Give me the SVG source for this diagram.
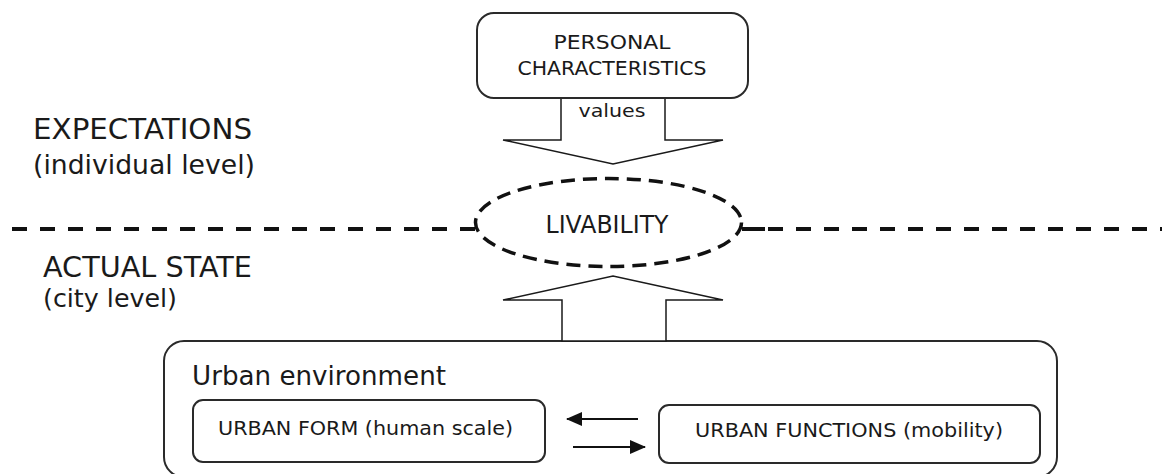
<svg xmlns="http://www.w3.org/2000/svg" width="1162" height="474" viewBox="0 0 1162 474">
  <defs>
    <style>
      .t { font-family: "DejaVu Sans", "Liberation Sans", sans-serif; fill: #1a1a1a; }
      .box { fill: #ffffff; stroke: #2a2a2a; stroke-width: 2; }
      .frame { fill: none; stroke: #2a2a2a; stroke-width: 2; }
      .block { fill: #ffffff; stroke: #1a1a1a; stroke-width: 1.5; stroke-linejoin: miter; }
      .dash { fill: none; stroke: #111111; stroke-width: 4; stroke-dasharray: 15 13; }
      .small { stroke: #111111; stroke-width: 2; fill: none; }
    </style>
    <marker id="ah2" viewBox="0 0 16 14" refX="15" refY="7" markerWidth="16" markerHeight="14" markerUnits="userSpaceOnUse" orient="auto">
      <path d="M0,0 L16,7 L0,14 z" fill="#111111"/>
    </marker>
  </defs>

  <!-- level divider -->
  <g id="divider">
    <line class="dash" x1="12" y1="229" x2="480" y2="229"/>
    <line class="dash" x1="768" y1="229" x2="1162" y2="229"/>
    <line class="dash" x1="742" y1="229" x2="765" y2="229" style="stroke-dasharray:none"/>
  </g>

  <!-- side labels -->
  <g id="label-expectations">
    <text class="t" x="33" y="139" font-size="28" textLength="219" lengthAdjust="spacingAndGlyphs">EXPECTATIONS</text>
    <text class="t" x="33" y="174" font-size="27" textLength="222" lengthAdjust="spacingAndGlyphs">(individual level)</text>
  </g>
  <g id="label-actual">
    <text class="t" x="43" y="277" font-size="28" textLength="209" lengthAdjust="spacingAndGlyphs">ACTUAL STATE</text>
    <text class="t" x="43" y="307" font-size="25" textLength="134" lengthAdjust="spacingAndGlyphs">(city level)</text>
  </g>

  <!-- urban environment frame -->
  <g id="urban-environment">
    <rect class="frame" x="164" y="341" width="893" height="136" rx="20" ry="20"/>
    <text class="t" x="192" y="385" font-size="26" textLength="254" lengthAdjust="spacingAndGlyphs">Urban environment</text>
  </g>

  <!-- connectors -->
  <g id="connectors">
    <polygon class="block" points="561,98 561,140 503,140 613,164 723,140 665,140 665,98"/>
    <polygon class="block" points="562,341 562,300 503,300 613,276 723,300 666,300 666,341"/>
    <line class="small" x1="638" y1="419" x2="567" y2="419" marker-end="url(#ah2)"/>
    <line class="small" x1="573" y1="447" x2="645" y2="447" marker-end="url(#ah2)"/>
  </g>

  <!-- personal characteristics -->
  <g id="personal">
    <rect class="box" x="477" y="13" width="271" height="85" rx="17" ry="17"/>
    <text class="t" x="612" y="49" font-size="20" text-anchor="middle" textLength="117" lengthAdjust="spacingAndGlyphs">PERSONAL</text>
    <text class="t" x="612" y="75" font-size="20" text-anchor="middle" textLength="189" lengthAdjust="spacingAndGlyphs">CHARACTERISTICS</text>
  </g>

  <g id="values">
    <text class="t" x="612" y="117" font-size="18" text-anchor="middle" textLength="67" lengthAdjust="spacingAndGlyphs">values</text>
  </g>

  <!-- livability -->
  <g id="livability">
    <ellipse cx="608.5" cy="222.5" rx="133" ry="44" fill="#ffffff" stroke="#111111" stroke-width="3.5" stroke-dasharray="14 8"/>
    <text class="t" x="607" y="233" font-size="24" text-anchor="middle" textLength="123" lengthAdjust="spacingAndGlyphs">LIVABILITY</text>
  </g>

  <g id="urban-form">
    <rect class="box" x="193" y="400" width="352" height="62" rx="10" ry="10"/>
    <text class="t" x="218" y="435" font-size="20" textLength="295" lengthAdjust="spacingAndGlyphs">URBAN FORM (human scale)</text>
  </g>

  <g id="urban-functions">
    <rect class="box" x="659" y="405" width="381" height="58" rx="10" ry="10"/>
    <text class="t" x="695" y="437" font-size="20" textLength="308" lengthAdjust="spacingAndGlyphs">URBAN FUNCTIONS (mobility)</text>
  </g>
</svg>
